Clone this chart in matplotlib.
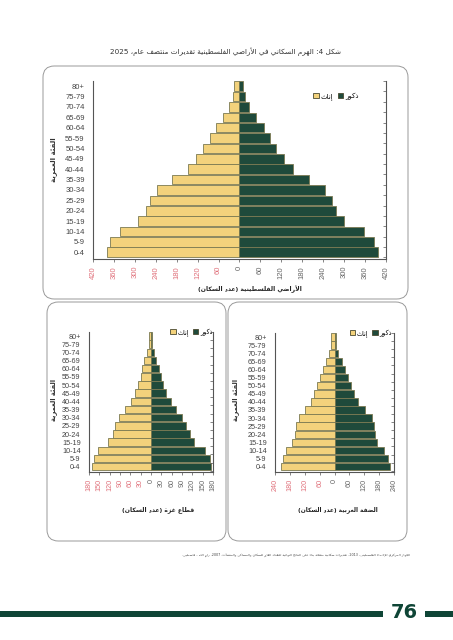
import re
import matplotlib
matplotlib.use("Agg")
import matplotlib.pyplot as plt
from matplotlib.patches import FancyBboxPatch, Rectangle, Patch

# ---------------- data ----------------
age_groups = ["0-4", "5-9", "10-14", "15-19", "20-24", "25-29", "30-34", "35-39",
              "40-44", "45-49", "50-54", "55-59", "60-64", "65-69", "70-74", "75-79", "80+"]

pal_females = [381, 371, 344, 291, 269, 256, 237, 193, 147, 124, 104, 85, 66, 47, 29, 19, 16]
pal_males = [396, 385, 358, 301, 278, 266, 244, 199, 153, 128, 105, 87, 70, 47, 27, 15, 10]

gaza_females = [170, 166, 153, 125, 110, 104, 93, 75, 57, 47, 37, 30, 25, 19, 13, 6, 7]
gaza_males = [173, 170, 156, 125, 112, 103, 91, 74, 57, 44, 34, 28, 22, 14, 9, 4, 3]

wb_females = [215, 207, 194, 170, 161, 157, 144, 121, 94, 81, 70, 59, 46, 33, 22, 14, 13]
wb_males = [223, 214, 199, 172, 163, 160, 150, 122, 93, 80, 68, 56, 43, 29, 16, 7, 5]

title_text = "شكل 4: الهرم السكاني في الأراضي الفلسطينية تقديرات منتصف عام، 2025"
ylabel_text = "الفئة العمرية"
male_label = "ذكور"
female_label = "إناث"
pal_xlabel = "الأراضي الفلسطينية (عدد السكان)"
gaza_xlabel = "قطاع غزة (عدد السكان)"
wb_xlabel = "الضفة الغربية (عدد السكان)"
source_text = ("الجهاز المركزي للإحصاء الفلسطيني، 2013. تقديرات سكانية منقحة بناء على النتائج "
               "النهائية للتعداد العام للسكان والمساكن والمنشآت، 2007. رام الله - فلسطين.")
page_number = "76"

# ---------------- arabic shaping ----------------
_FORMS = {
    '\u0621': (0xFE80, 1), '\u0622': (0xFE81, 2), '\u0623': (0xFE83, 2), '\u0624': (0xFE85, 2),
    '\u0625': (0xFE87, 2), '\u0626': (0xFE89, 4), '\u0627': (0xFE8D, 2), '\u0628': (0xFE8F, 4),
    '\u0629': (0xFE93, 2), '\u062A': (0xFE95, 4), '\u062B': (0xFE99, 4), '\u062C': (0xFE9D, 4),
    '\u062D': (0xFEA1, 4), '\u062E': (0xFEA5, 4), '\u062F': (0xFEA9, 2), '\u0630': (0xFEAB, 2),
    '\u0631': (0xFEAD, 2), '\u0632': (0xFEAF, 2), '\u0633': (0xFEB1, 4), '\u0634': (0xFEB5, 4),
    '\u0635': (0xFEB9, 4), '\u0636': (0xFEBD, 4), '\u0637': (0xFEC1, 4), '\u0638': (0xFEC5, 4),
    '\u0639': (0xFEC9, 4), '\u063A': (0xFECD, 4), '\u0641': (0xFED1, 4), '\u0642': (0xFED5, 4),
    '\u0643': (0xFED9, 4), '\u0644': (0xFEDD, 4), '\u0645': (0xFEE1, 4), '\u0646': (0xFEE5, 4),
    '\u0647': (0xFEE9, 4), '\u0648': (0xFEED, 2), '\u0649': (0xFEEF, 2), '\u064A': (0xFEF1, 4),
}
_LAM_ALEF = {'\u0622': 0xFEF5, '\u0623': 0xFEF7, '\u0625': 0xFEF9, '\u0627': 0xFEFB}


def _shape(text):
    toks = []
    i = 0
    while i < len(text):
        c = text[i]
        if c == '\u0644' and i + 1 < len(text) and text[i + 1] in _LAM_ALEF:
            toks.append(('LA', text[i + 1]))
            i += 2
        else:
            toks.append(('C', c))
            i += 1

    def nf(t):
        if t[0] == 'LA':
            return 2
        return _FORMS.get(t[1], (0, 0))[1]

    out = []
    for k, t in enumerate(toks):
        n = nf(t)
        if n == 0:
            out.append(t[1])
            continue
        prev = toks[k - 1] if k > 0 else None
        nxt = toks[k + 1] if k + 1 < len(toks) else None
        jp = prev is not None and nf(prev) == 4
        jn = n == 4 and nxt is not None and nf(nxt) >= 2
        if t[0] == 'LA':
            out.append(chr(_LAM_ALEF[t[1]] + (1 if jp else 0)))
            continue
        start = _FORMS[t[1]][0]
        if n == 1:
            out.append(chr(start))
        elif n == 2:
            out.append(chr(start + (1 if jp else 0)))
        else:
            f = 3 if (jp and jn) else 1 if jp else 2 if jn else 0
            out.append(chr(start + f))
    return ''.join(out)


def ar(text):
    s = _shape(text)
    parts = re.findall(r'[0-9A-Za-z]+|.', s)
    mirror = {'(': ')', ')': '('}
    return ''.join(mirror.get(p, p) for p in reversed(parts))


# ---------------- figure ----------------
W, H = 453, 640
fig = plt.figure(figsize=(W / 100, H / 100), dpi=100)
fig.patch.set_facecolor("white")

FEM = "#f3d27c"
MAL = "#1f4a3b"
EDGE = "#7b7a52"
RED = "#e0707a"
GRAY = "#666666"
ARFONT = "DejaVu Sans"
NUMFONT = "Liberation Sans"


def px_axes(l, t, r, b):
    return fig.add_axes([l / W, 1 - b / H, (r - l) / W, (b - t) / H])


def fig_text(x, y, s, **kw):
    fig.text(x / W, 1 - y / H, s, **kw)


def rbox(l, t, r, b):
    p = FancyBboxPatch((l / W, 1 - b / H), (r - l) / W, (b - t) / H,
                       boxstyle="round,pad=0,rounding_size=0.025",
                       transform=fig.transFigure, facecolor="none",
                       edgecolor="#9a9a9a", linewidth=0.7, mutation_aspect=W / H)
    fig.add_artist(p)


def pyramid(ax, fem, mal, lim, step, leg_x, leg_y, fs):
    y = list(range(len(age_groups)))
    ax.barh(y, [-v for v in fem], height=0.92, color=FEM, edgecolor=EDGE, linewidth=0.6)
    ax.barh(y, mal, height=0.92, color=MAL, edgecolor=EDGE, linewidth=0.6)
    ax.set_xlim(-lim, lim)
    ax.set_ylim(-0.65, len(age_groups) - 0.5)
    ticks = list(range(-lim, lim + 1, step))
    ax.set_xticks(ticks)
    ax.set_xticklabels([str(abs(t)) for t in ticks], rotation=90,
                       fontsize=fs, family=NUMFONT)
    for t, lab in zip(ticks, ax.get_xticklabels()):
        lab.set_color(RED if t < 0 else GRAY)
    ax.tick_params(axis='x', length=2, width=0.5, color="#555555", pad=3)
    ax.set_yticks(y)
    ax.set_yticklabels(age_groups, fontsize=fs, family=NUMFONT, color="#444444")
    ax.tick_params(axis='y', length=0, pad=6)
    ax.spines["top"].set_visible(False)
    for s in ("left", "bottom", "right"):
        ax.spines[s].set_color("#555555")
        ax.spines[s].set_linewidth(0.8)
    ax2 = ax.twinx()
    ax2.set_ylim(ax.get_ylim())
    ax2.set_yticks([k + 0.5 for k in range(-1, len(age_groups))])
    ax2.set_yticklabels([])
    ax2.tick_params(axis='y', direction='in', length=2.5, width=0.5, color="#555555")
    for s in ("top", "left", "bottom", "right"):
        ax2.spines[s].set_visible(False)
    handles = [Patch(facecolor=FEM, edgecolor="#4a4a30", linewidth=0.6, label=ar(female_label)),
               Patch(facecolor=MAL, edgecolor="#4a4a30", linewidth=0.6, label=ar(male_label))]
    ax.legend(handles=handles, ncol=2, loc="center left", bbox_to_anchor=(leg_x, leg_y),
              frameon=False, prop={"family": ARFONT, "size": fs - 0.5},
              handlelength=0.8, handleheight=0.8, handletextpad=0.3, columnspacing=0.6,
              borderpad=0)


# rounded page boxes
rbox(43, 66, 408, 299)
rbox(47, 302, 226, 541)
rbox(228, 302, 407, 541)

# title
fig_text(225, 52, ar(title_text), ha="center", va="center", fontsize=5.2,
         family=ARFONT, color="#333333")

# top pyramid
ax_top = px_axes(93, 81, 386, 259)
pyramid(ax_top, pal_females, pal_males, 420, 60, 0.74, 0.915, 5.5)
fig_text(250, 289, ar(pal_xlabel), ha="center", va="center", fontsize=4.4,
         family=ARFONT, color="#222222", fontweight="bold")
fig_text(54, 160, ar(ylabel_text), ha="center", va="center", fontsize=5,
         family=ARFONT, color="#333333", rotation=90, fontweight="bold")

# Gaza pyramid
ax_g = px_axes(89, 332, 213, 472)
pyramid(ax_g, gaza_females, gaza_males, 180, 30, 0.63, 1.0, 5.2)
fig_text(158, 510, ar(gaza_xlabel), ha="center", va="center", fontsize=4.4,
         family=ARFONT, color="#222222", fontweight="bold")
fig_text(54, 400, ar(ylabel_text), ha="center", va="center", fontsize=4.8,
         family=ARFONT, color="#333333", rotation=90, fontweight="bold")

# West Bank pyramid
ax_w = px_axes(275, 333, 394, 472)
pyramid(ax_w, wb_females, wb_males, 240, 60, 0.60, 1.0, 5.2)
fig_text(338, 510, ar(wb_xlabel), ha="center", va="center", fontsize=4.2,
         family=ARFONT, color="#222222", fontweight="bold")
fig_text(236, 400, ar(ylabel_text), ha="center", va="center", fontsize=4.8,
         family=ARFONT, color="#333333", rotation=90, fontweight="bold")

# source line
fig_text(410, 555, ar(source_text), ha="right", va="center", fontsize=2.4,
         family=ARFONT, color="#444444")

# page band and number
fig.add_artist(Rectangle((0, 1 - 617 / H), 383 / W, 6 / H, transform=fig.transFigure,
                         facecolor="#0f4536", edgecolor="none"))
fig.add_artist(Rectangle((425 / W, 1 - 617 / H), 28 / W, 6 / H, transform=fig.transFigure,
                         facecolor="#0f4536", edgecolor="none"))
fig_text(404, 612, page_number, ha="center", va="center", fontsize=14,
         family="DejaVu Sans", fontweight="bold", color="#0f4536")

fig.savefig("out.png", dpi=100, facecolor="white")
